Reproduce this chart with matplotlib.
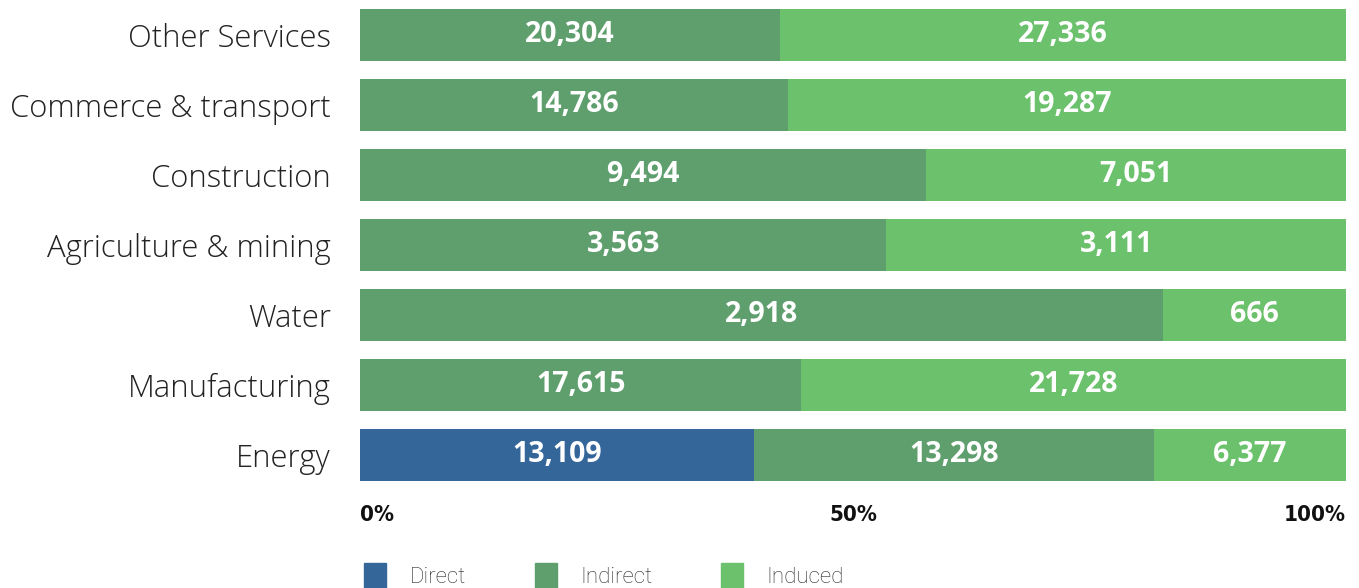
import matplotlib
matplotlib.use("Agg")
import matplotlib.pyplot as plt
from matplotlib.patches import Patch
import numpy as np

# sectors listed bottom to top
sectors = ["Energy", "Manufacturing", "Water", "Agriculture & mining",
           "Construction", "Commerce & transport", "Other Services"]
direct = [13109, 0, 0, 0, 0, 0, 0]
indirect = [13298, 17615, 2918, 3563, 9494, 14786, 20304]
induced = [6377, 21728, 666, 3111, 7051, 19287, 27336]

series_names = ["Direct", "Indirect", "Induced"]
colors = ["#35669a", "#5f9f6e", "#6bc16c"]
x_ticks = [0, 50, 100]
x_tick_labels = ["0%", "50%", "100%"]

data = np.array([direct, indirect, induced], dtype=float)
totals = data.sum(axis=0)
shares = data / totals * 100

fig = plt.figure(figsize=(13.59, 5.88), dpi=100)
ax = fig.add_axes([360 / 1359, 98 / 588, 986 / 1359, 490 / 588])

y = np.arange(len(sectors))
left = np.zeros(len(sectors))
for i, name in enumerate(series_names):
    bars = ax.barh(y, shares[i], left=left, height=0.74, color=colors[i],
                   label=name)
    for j in range(len(sectors)):
        if data[i, j] > 0:
            ax.text(left[j] + shares[i, j] / 2, y[j], f"{int(data[i, j]):,}",
                    ha="center", va="center", color="white",
                    fontsize=20.5, fontweight="bold", family="Open Sans")
    left += shares[i]

ax.set_xlim(0, 100)
ax.set_ylim(-0.5, len(sectors) - 0.5)
ax.set_yticks(y)
ax.set_yticklabels(sectors, fontsize=22.3, family="Open Sans",
                   fontweight="light", color="#222222", va="center_baseline")
ax.set_xticks(x_ticks)
ax.set_xticklabels(x_tick_labels, fontsize=16, family="DejaVu Sans",
                   fontweight="bold", fontstretch="condensed", color="#111111")
labels = ax.get_xticklabels()
labels[0].set_ha("left")
labels[-1].set_ha("right")
ax.tick_params(axis="y", length=0, pad=21)
ax.tick_params(axis="x", length=0, pad=11)
for s in ax.spines.values():
    s.set_visible(False)

handles = [Patch(color=c, label=n) for c, n in zip(colors, series_names)]
fig.legend(handles=handles, loc="upper left", ncol=3, frameon=False,
           bbox_to_anchor=(364 / 1359, 1 - 563 / 588),
           borderaxespad=0, borderpad=0,
           prop={"family": "Roboto", "weight": "light", "size": 16},
           handlelength=1.0, handleheight=1.4, handletextpad=1.05,
           columnspacing=3.1, labelcolor="#2a2a2a")

fig.savefig("out.png", dpi=100)
